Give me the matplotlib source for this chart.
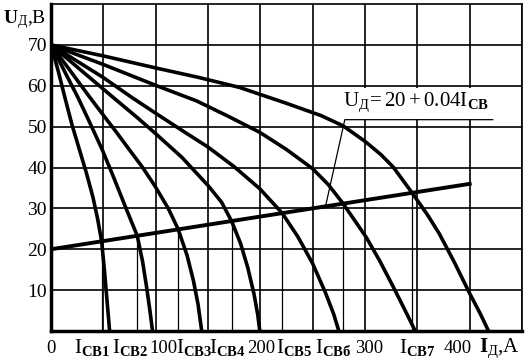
import matplotlib.pyplot as plt
from matplotlib.patches import Rectangle

plt.rcParams['font.family'] = ['Liberation Serif', 'DejaVu Serif']
plt.rcParams['mathtext.fontset'] = 'custom'
plt.rcParams['mathtext.rm'] = 'Liberation Serif'
plt.rcParams['mathtext.it'] = 'Liberation Serif'
plt.rcParams['mathtext.bf'] = 'Liberation Serif:bold'

# volt-ampere curves (I, A ; U, V)
c1_I = [0, 7, 13.4, 20, 27, 34, 40, 44.5, 48.4, 51, 53.5, 56]
c1_U = [70, 63.5, 57, 50.5, 44.5, 38.5, 32.8, 27.5, 21.9, 15, 7.5, 0]
c2_I = [0, 13, 26, 37, 48.7, 60, 72, 82.4, 87.5, 91.3, 94.5, 97]
c2_U = [70, 63.5, 57, 51, 44.5, 37.5, 29.8, 23.3, 17, 10.8, 5, 0]
c3_I = [0, 18, 37, 50, 62, 75, 87, 99, 112, 121.5, 130, 136, 140.5, 144]
c3_U = [70, 63.8, 57.2, 52.8, 48.8, 44.3, 40.2, 35.6, 30, 24.9, 18.5, 12.4, 6.5, 0]
c4_I = [0, 30, 61, 82, 99, 125, 150, 163, 172.5, 181, 188, 194, 197.5, 199.5]
c4_U = [70, 63.5, 56.8, 52.3, 48.5, 42.5, 35.6, 31.5, 26.9, 21.5, 15.5, 9, 4, 0]
c5_I = [0, 50, 78, 104, 128, 150, 175, 199.5, 221, 236, 250, 262, 270, 275]
c5_U = [70, 62, 57, 52.6, 48.6, 45, 40.2, 34.8, 28.8, 23, 16.5, 9.5, 4.2, 0]
c6_I = [0, 50, 101, 139, 168, 199.5, 225, 250, 265, 279, 301, 314, 327, 338, 348]
c6_U = [70, 65.2, 60, 56.3, 52.7, 48.6, 44.4, 39.7, 35.8, 31.2, 23, 17.2, 10.8, 5.2, 0]
c7_I = [0, 50, 101, 140, 180, 225, 258, 279, 300, 315, 327, 345, 360, 371, 385, 400, 410, 418]
c7_U = [70, 67.3, 64.3, 62.1, 59.6, 55.7, 52.7, 50.2, 46.4, 43.2, 40.1, 33.8, 28.3, 23.8, 17, 9.2, 4.3, 0]
curves = [(c1_I, c1_U), (c2_I, c2_U), (c3_I, c3_U), (c4_I, c4_U),
          (c5_I, c5_U), (c6_I, c6_U), (c7_I, c7_U)]

# arc line U = 20 + 0.04 I
line_I = [0, 400]
line_U = [20, 36]

# intersection points
icb_I = [48.4, 82.4, 121.5, 172.5, 221, 279, 345]
icb_U = [21.9, 23.3, 24.9, 26.9, 28.8, 31.2, 33.8]

# bottom labels
num_pos = [0, 107.5, 201, 304, 389]
num_txt = ['0', '100', '200', '300', '400']
icb_pos = [39, 75.5, 136.5, 168.5, 232, 270, 350]
icb_txt = ['СВ1', 'СВ2', 'СВ3', 'СВ4', 'СВ5', 'СВб', 'СВ7']
yticks = [10, 20, 30, 40, 50, 60, 70]

fig = plt.figure(figsize=(5.3, 3.64), dpi=100)
ax = fig.add_axes([51/530, 33/364, 471/530, 327/364])
ax.set_xlim(0, 450)
ax.set_ylim(0, 80)

ax.set_xticks(range(0, 451, 50))
ax.set_xticklabels([])
ax.set_yticks(yticks)
ax.set_yticklabels([str(v) for v in yticks], fontsize=14)
ax.tick_params(length=0, pad=3)
ax.grid(True, color='black', lw=1.2, zorder=1)
ax.set_axisbelow(True)

for s in ['top', 'right']:
    ax.spines[s].set_linewidth(1.2)
for s in ['left', 'bottom']:
    ax.spines[s].set_linewidth(2.5)

ax.vlines(icb_I, 0, icb_U, color='black', lw=0.9, zorder=2)

for ci, cu in curves:
    ax.plot(ci, cu, color='black', lw=2.6, solid_joinstyle='round', zorder=3)

ax.plot(line_I, line_U, color='black', lw=2.8, zorder=3)

# formula label
ax.add_patch(Rectangle((276, 51.9), 150, 7.5, facecolor='white', edgecolor='none', zorder=2))
ax.text(279, 56.0, r'$\mathrm{U_{Д}\!= 20 + 0.04I_{\mathbf{СВ}}}$', fontsize=15,
        ha='left', va='center', zorder=4)
ax.plot([262.2, 280.7, 422], [30.4, 51.7, 51.7], color='black', lw=0.9, zorder=4)

for x, t in zip(num_pos, num_txt):
    ax.text(x, -4.2, t, fontsize=13.5, ha='center', va='center', clip_on=False)
for x, t in zip(icb_pos, icb_txt):
    ax.text(x, -4.0, r'$\mathrm{I_{\mathbf{' + t + '}}}$', fontsize=15,
            ha='center', va='center', clip_on=False)

ax.text(428.7, -4.2, r'$\mathrm{\mathbf{I}_{Д}}$,A', fontsize=15,
        ha='center', va='center', clip_on=False)
fig.text(25 / 530, 1 - 20 / 364, r'$\mathrm{\mathbf{U}_{Д}}$,В', fontsize=14,
         ha='center', va='center')

fig.savefig('out.png', dpi=100)
